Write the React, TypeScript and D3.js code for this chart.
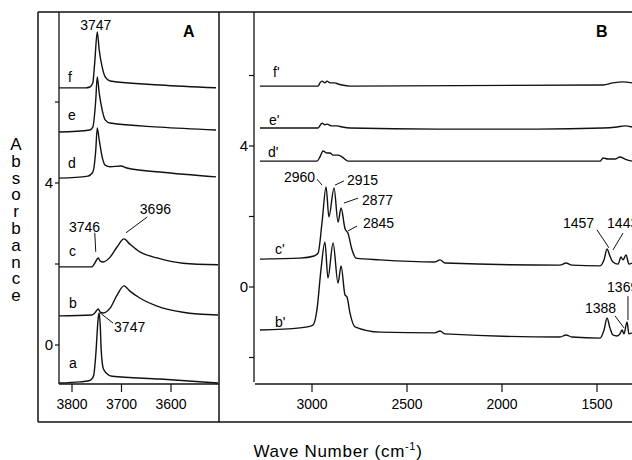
import React from 'react';
import * as d3 from 'd3';

type Pt = [number, number];

// ---------- data (wavenumber cm-1, absorbance) ----------
const xTicksA = [3800, 3700, 3600];
const xTicksB = [3000, 2500, 2000, 1500];
const yTicksA = [0, 2, 4, 6];
const yTicksB = [-2, 0, 2, 4, 6];
const yTickLabels = [0, 4];

const traceA_a: Pt[] = [
  [3826, -0.94], [3784, -0.91], [3768, -0.89], [3760, -0.84], [3756, -0.74], [3752, -0.25],
  [3747, 0.67], [3745, 0.79], [3743, 0.49], [3741, -0.12], [3737, -0.57], [3731, -0.69],
  [3719, -0.77], [3622, -0.84], [3505, -0.94],
];
const traceA_b: Pt[] = [
  [3826, 0.72], [3760, 0.74], [3754, 0.79], [3747, 0.89], [3743, 0.81], [3737, 0.79],
  [3723, 0.91], [3709, 1.23], [3695, 1.46], [3683, 1.33], [3663, 1.16], [3628, 0.96],
  [3576, 0.81], [3505, 0.74],
];
const traceA_c: Pt[] = [
  [3826, 1.93], [3760, 1.93], [3754, 2.02], [3747, 2.15], [3743, 2.07], [3737, 2.05],
  [3723, 2.17], [3709, 2.42], [3695, 2.62], [3683, 2.49], [3663, 2.3], [3628, 2.15],
  [3576, 2.02], [3505, 1.98],
];
const traceA_d: Pt[] = [
  [3826, 4.12], [3768, 4.17], [3758, 4.27], [3752, 4.81], [3749, 5.36], [3745, 5.06],
  [3739, 4.64], [3733, 4.44], [3723, 4.4], [3701, 4.42], [3689, 4.37], [3622, 4.27], [3509, 4.15],
];
const traceA_e: Pt[] = [
  [3826, 5.26], [3764, 5.31], [3758, 5.38], [3752, 6.05], [3749, 6.62], [3745, 6.22],
  [3739, 5.8], [3733, 5.56], [3723, 5.48], [3622, 5.38], [3509, 5.31],
];
const traceA_f: Pt[] = [
  [3826, 6.35], [3772, 6.35], [3764, 6.37], [3758, 6.47], [3754, 6.99], [3749, 7.73],
  [3745, 7.28], [3739, 6.86], [3733, 6.62], [3723, 6.52], [3622, 6.42], [3509, 6.35],
];

const traceB_b: Pt[] = [
  [3274, -1.22], [3063, -1.16], [2995, -1.08], [2974, -0.65], [2953, 0.48], [2932, 1.28],
  [2916, 0.26], [2889, 1.25], [2863, 0.11], [2847, 0.6], [2826, -0.23], [2816, -0.28],
  [2800, -0.74], [2774, -1.13], [2642, -1.28], [2353, -1.3], [2326, -1.25], [2300, -1.33],
  [1695, -1.42], [1663, -1.36], [1632, -1.42], [1484, -1.45], [1463, -1.22], [1447, -0.88],
  [1432, -1.16], [1416, -1.36], [1395, -1.39], [1379, -1.33], [1368, -1.22], [1358, -1.33],
  [1342, -0.99], [1332, -1.33], [1316, -1.3],
];
const traceB_c: Pt[] = [
  [3274, 0.79], [3063, 0.82], [2989, 0.88], [2968, 0.96], [2947, 1.84], [2926, 2.84],
  [2911, 1.99], [2884, 2.81], [2863, 1.84], [2847, 2.24], [2826, 1.65], [2811, 1.53],
  [2789, 1.05], [2768, 0.82], [2642, 0.77], [2353, 0.71], [2326, 0.77], [2300, 0.68],
  [1695, 0.62], [1663, 0.68], [1632, 0.62], [1484, 0.6], [1463, 0.77], [1447, 1.08],
  [1432, 0.88], [1416, 0.71], [1389, 0.65], [1374, 0.85], [1363, 0.77], [1347, 0.91],
  [1332, 0.65], [1316, 0.68],
];
const traceB_d: Pt[] = [
  [3274, 3.57], [2974, 3.57], [2958, 3.69], [2942, 3.86], [2921, 3.8], [2905, 3.8],
  [2889, 3.74], [2863, 3.74], [2842, 3.69], [2811, 3.57], [1484, 3.57], [1468, 3.66],
  [1442, 3.63], [1405, 3.63], [1379, 3.69], [1353, 3.63], [1316, 3.57],
];
const traceB_e: Pt[] = [
  [3274, 4.51], [2968, 4.51], [2953, 4.62], [2947, 4.65], [2932, 4.6], [2921, 4.62],
  [2895, 4.57], [2868, 4.57], [2842, 4.54], [2800, 4.51], [2342, 4.48], [1816, 4.48],
  [1468, 4.51], [1395, 4.54], [1353, 4.57], [1316, 4.54],
];
const traceB_f: Pt[] = [
  [3274, 5.7], [2968, 5.7], [2958, 5.79], [2947, 5.84], [2932, 5.79], [2921, 5.84],
  [2905, 5.79], [2879, 5.79], [2863, 5.76], [2842, 5.73], [2800, 5.7], [1468, 5.73],
  [1416, 5.79], [1363, 5.82], [1316, 5.79],
];

const traceNamesA = ['a', 'b', 'c', 'd', 'e', 'f'];
const traceNamesB = ["b'", "c'", "d'", "e'", "f'"];

// trace name labels: [wavenumber, absorbance] of label start / baseline
const nameAnchorsA: Pt[] = [
  [3806, -0.57], [3806, 0.91], [3806, 2.2], [3808, 4.37], [3808, 5.56], [3808, 6.49],
];
const nameAnchorsB: Pt[] = [
  [3195, -1.13], [3195, 0.94], [3232, 3.69], [3226, 4.6], [3205, 5.96],
];

// peak annotations: text, anchor, text-anchor, pointer start, pointer end
const peakTextsA = ['3747', '3746', '3696', '3747'];
const peakAnchorsA: Pt[] = [[3752, 7.78], [3806, 2.79], [3663, 3.23], [3715, 0.32]];
const peakAlignA = ['middle', 'start', 'start', 'start'];
const peakLinesA: [Pt, Pt][] = [
  [[3747, 7.78], [3747, 7.78]],
  [[3754, 2.77], [3752, 2.3]],
  [[3648, 3.16], [3691, 2.77]],
  [[3743, 0.79], [3717, 0.54]],
];

const peakTextsB = ['2960', '2915', '2877', '2845', '1457', '1443', '1369', '1388'];
const peakAnchorsB: Pt[] = [
  [2984, 2.98], [2816, 2.89], [2737, 2.33], [2732, 1.67],
  [1679, 1.67], [1447, 1.67], [1447, -0.14], [1563, -0.74],
];
const peakAlignB = ['end', 'start', 'start', 'start', 'start', 'start', 'start', 'start'];
const peakLinesB: [Pt, Pt][] = [
  [[2974, 3.06], [2947, 2.89]],
  [[2879, 2.89], [2832, 3.01]],
  [[2832, 2.38], [2758, 2.52]],
  [[2811, 1.59], [2763, 1.73]],
  [[1500, 1.62], [1437, 1.11]],
  [[1363, 1.53], [1416, 1.05]],
  [[1337, -0.26], [1337, -0.94]],
  [[1405, -0.82], [1358, -1.16]],
];

const yTitle = 'Absorbance';

export default function App() {
  const font = "'Liberation Sans', Arial, Helvetica, sans-serif";
  // layout
  const frameL = 38, frameT = 12, frameB = 422, divX = 219;
  const axAx = 59, axAy = 384;
  const axBx = 254, axBy = 384;

  const xA = d3.scaleLinear().domain([3800, 3600]).range([72, 171]);
  const yA = d3.scaleLinear().domain([0, 4]).range([345, 183]);
  const xB = d3.scaleLinear().domain([3000, 1500]).range([312, 597]);
  const yB = d3.scaleLinear().domain([0, 4]).range([287, 146]);

  const lineA = d3.line<Pt>().x(d => xA(d[0])).y(d => yA(d[1])).curve(d3.curveMonotoneX);
  const lineB = d3.line<Pt>().x(d => xB(d[0])).y(d => yB(d[1])).curve(d3.curveMonotoneX);

  const tracesA = [traceA_a, traceA_b, traceA_c, traceA_d, traceA_e, traceA_f];
  const tracesB = [traceB_b, traceB_c, traceB_d, traceB_e, traceB_f];

  const stroke = '#111';

  return (
    <svg width={632} height={460} style={{ position: 'absolute', left: 0, top: 0, background: '#fff' }} fontFamily={font}>
      <defs>
        <clipPath id="clipA"><rect x={axAx} y={frameT} width={divX - axAx} height={axAy - frameT} /></clipPath>
        <clipPath id="clipB"><rect x={axBx} y={frameT} width={700} height={axBy - frameT} /></clipPath>
      </defs>
      <rect x={0} y={0} width={632} height={460} fill="#fff" />
      {/* frame */}
      <line x1={frameL} y1={frameT} x2={700} y2={frameT} stroke={stroke} strokeWidth={1.5} />
      <line x1={frameL} y1={frameB} x2={700} y2={frameB} stroke={stroke} strokeWidth={1.5} />
      <line x1={frameL} y1={frameT} x2={frameL} y2={frameB} stroke={stroke} strokeWidth={1.5} />
      <line x1={divX} y1={frameT} x2={divX} y2={frameB} stroke={stroke} strokeWidth={1.5} />

      {/* Panel A axes */}
      <line x1={axAx} y1={frameT} x2={axAx} y2={axAy} stroke={stroke} strokeWidth={1.3} />
      <line x1={axAx} y1={axAy} x2={divX} y2={axAy} stroke={stroke} strokeWidth={1.3} />
      {xTicksA.map(t => (
        <g key={t}>
          <line x1={xA(t)} x2={xA(t)} y1={axAy} y2={axAy + 8} stroke={stroke} strokeWidth={1.2} />
          <text x={xA(t)} y={axAy + 25} fontSize={14} textAnchor="middle">{t}</text>
        </g>
      ))}
      {yTicksA.map(t => (
        <line key={t} x1={axAx - 4} x2={axAx} y1={yA(t)} y2={yA(t)} stroke={stroke} strokeWidth={1.2} />
      ))}
      {yTickLabels.map(t => (
        <text key={t} x={axAx - 6} y={yA(t) + 5} fontSize={15} textAnchor="end">{t}</text>
      ))}
      <g clipPath="url(#clipA)">
        {tracesA.map((tr, i) => (
          <path key={i} d={lineA(tr) || ''} fill="none" stroke={stroke} strokeWidth={1.4} strokeLinejoin="round" />
        ))}
      </g>
      {traceNamesA.map((n, i) => (
        <text key={n} x={xA(nameAnchorsA[i][0])} y={yA(nameAnchorsA[i][1])} fontSize={14}>{n}</text>
      ))}
      {peakTextsA.map((t, i) => (
        <g key={i}>
          <text x={xA(peakAnchorsA[i][0])} y={yA(peakAnchorsA[i][1])} fontSize={14} textAnchor={peakAlignA[i] as any}>{t}</text>
          <line x1={xA(peakLinesA[i][0][0])} y1={yA(peakLinesA[i][0][1])} x2={xA(peakLinesA[i][1][0])} y2={yA(peakLinesA[i][1][1])} stroke={stroke} strokeWidth={1} />
        </g>
      ))}
      <text x={183} y={37} fontSize={16} fontWeight="bold">A</text>

      {/* Panel B axes */}
      <line x1={axBx} y1={frameT} x2={axBx} y2={axBy - 2} stroke={stroke} strokeWidth={1.3} />
      <line x1={axBx + 1} y1={axBy} x2={700} y2={axBy} stroke={stroke} strokeWidth={1.3} />
      {xTicksB.map(t => (
        <g key={t}>
          <line x1={xB(t)} x2={xB(t)} y1={axBy} y2={axBy + 8} stroke={stroke} strokeWidth={1.2} />
          <text x={xB(t)} y={axBy + 25} fontSize={14} textAnchor="middle">{t}</text>
        </g>
      ))}
      {yTicksB.map(t => (
        <line key={t} x1={axBx - 5} x2={axBx} y1={yB(t)} y2={yB(t)} stroke={stroke} strokeWidth={1.2} />
      ))}
      {yTickLabels.map(t => (
        <text key={t} x={axBx - 6} y={yB(t) + 5} fontSize={15} textAnchor="end">{t}</text>
      ))}
      <g clipPath="url(#clipB)">
        {tracesB.map((tr, i) => (
          <path key={i} d={lineB(tr) || ''} fill="none" stroke={stroke} strokeWidth={1.4} strokeLinejoin="round" />
        ))}
      </g>
      {traceNamesB.map((n, i) => (
        <text key={n} x={xB(nameAnchorsB[i][0])} y={yB(nameAnchorsB[i][1])} fontSize={14}>{n}</text>
      ))}
      {peakTextsB.map((t, i) => (
        <g key={i}>
          <text x={xB(peakAnchorsB[i][0])} y={yB(peakAnchorsB[i][1])} fontSize={14} textAnchor={peakAlignB[i] as any}>{t}</text>
          <line x1={xB(peakLinesB[i][0][0])} y1={yB(peakLinesB[i][0][1])} x2={xB(peakLinesB[i][1][0])} y2={yB(peakLinesB[i][1][1])} stroke={stroke} strokeWidth={1} />
        </g>
      ))}
      <text x={596} y={37} fontSize={16} fontWeight="bold">B</text>

      {/* Y title: stacked letters in one text element */}
      <text fontSize={17} textAnchor="middle">
        {yTitle.split('').map((ch, i) => (
          <tspan key={i} x={16} y={150 + i * 16.8}>{ch}</tspan>
        ))}
      </text>
      {/* X title */}
      <text x={338} y={457} fontSize={17} textAnchor="middle" letterSpacing={0.7}>
        <tspan>Wave Number (cm</tspan>
        <tspan dy={-7} fontSize={11}>-1</tspan>
        <tspan dy={7}>)</tspan>
      </text>
    </svg>
  );
}
